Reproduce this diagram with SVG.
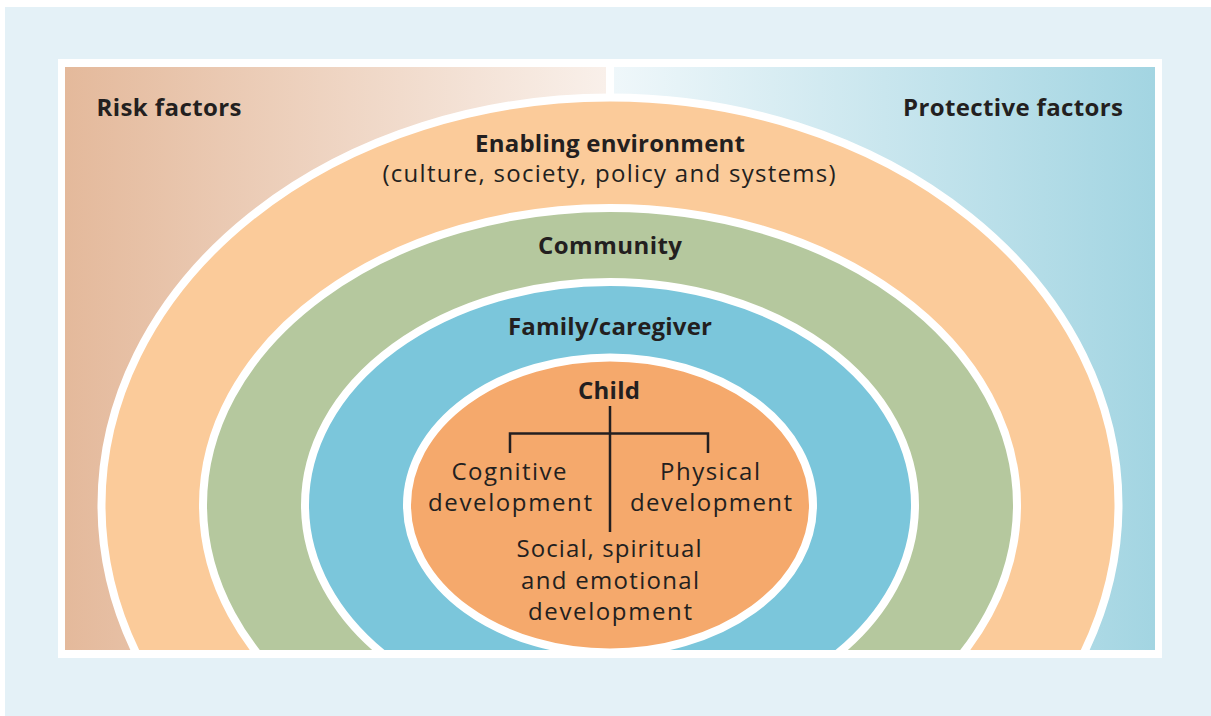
<svg xmlns="http://www.w3.org/2000/svg" width="1211" height="716" viewBox="0 0 1211 716">
  <defs>
    <linearGradient id="riskGrad" x1="65" y1="0" x2="606" y2="0" gradientUnits="userSpaceOnUse">
      <stop offset="0" stop-color="#E4B99B"/>
      <stop offset="1" stop-color="#F9F0EA"/>
    </linearGradient>
    <linearGradient id="protGrad" x1="614" y1="0" x2="1155" y2="0" gradientUnits="userSpaceOnUse">
      <stop offset="0" stop-color="#EFF7FA"/>
      <stop offset="1" stop-color="#A3D5E2"/>
    </linearGradient>
    <clipPath id="inner">
      <rect x="65" y="67" width="1090" height="583"/>
    </clipPath>
    <style>
      .ring { stroke: #FFFFFF; stroke-width: 8; }
      .t { font-family: "Open Sans", "Liberation Sans", sans-serif; fill: #231F20; text-anchor: middle; }
      .b { font-weight: 700; font-size: 24px; }
      .r { font-weight: 400; font-size: 24px; }
      .line { stroke: #231F20; stroke-width: 2.5; fill: none; }
    </style>
  </defs>

  <rect x="0" y="0" width="1211" height="716" fill="#FFFFFF"/>
  <rect x="5" y="7" width="1206" height="709" fill="#E4F1F7"/>
  <rect x="58" y="59" width="1104" height="599" fill="#FFFFFF"/>

  <g id="risk-factors">
    <rect x="65" y="67" width="541" height="583" fill="url(#riskGrad)"/>
    <text class="t b" x="169" y="116" textLength="145" lengthAdjust="spacing">Risk factors</text>
  </g>
  <g id="protective-factors">
    <rect x="614" y="67" width="541" height="583" fill="url(#protGrad)"/>
    <text class="t b" x="1013" y="116" textLength="220" lengthAdjust="spacing">Protective factors</text>
  </g>

  <g clip-path="url(#inner)">
    <g id="enabling-environment">
      <ellipse class="ring" cx="610" cy="505" rx="508.5" ry="407.5" fill="#FBCB9A"/>
      <text class="t b" x="610" y="152" textLength="270" lengthAdjust="spacing">Enabling environment</text>
      <text class="t r" x="609" y="182" textLength="453" lengthAdjust="spacing">(culture, society, policy and systems)</text>
    </g>
    <g id="community">
      <ellipse class="ring" cx="610" cy="505" rx="407" ry="297" fill="#B5C89E"/>
      <text class="t b" x="610" y="254" textLength="144" lengthAdjust="spacing">Community</text>
    </g>
    <g id="family-caregiver">
      <ellipse class="ring" cx="610" cy="505" rx="305" ry="223" fill="#7BC6DB"/>
      <text class="t b" x="610" y="335" textLength="204" lengthAdjust="spacing">Family/caregiver</text>
    </g>
    <g id="child">
      <ellipse class="ring" cx="610" cy="505" rx="203" ry="147.5" fill="#F5A96C"/>
      <text class="t b" x="609" y="399" textLength="62" lengthAdjust="spacing">Child</text>
    </g>
  </g>

  <g id="connectors">
    <line class="line" x1="610" y1="406" x2="610" y2="532"/>
    <polyline class="line" points="510,453 510,433.5 708,433.5 708,453"/>
  </g>

  <g id="cognitive-development">
    <text class="t r" x="509" y="480" textLength="115" lengthAdjust="spacing">Cognitive</text>
    <text class="t r" x="510" y="511" textLength="164" lengthAdjust="spacing">development</text>
  </g>
  <g id="physical-development">
    <text class="t r" x="710" y="480" textLength="100" lengthAdjust="spacing">Physical</text>
    <text class="t r" x="711" y="511" textLength="162" lengthAdjust="spacing">development</text>
  </g>
  <g id="social-development">
    <text class="t r" x="609" y="557" textLength="185" lengthAdjust="spacing">Social, spiritual</text>
    <text class="t r" x="610" y="589" textLength="178" lengthAdjust="spacing">and emotional</text>
    <text class="t r" x="610" y="620" textLength="164" lengthAdjust="spacing">development</text>
  </g>
</svg>
